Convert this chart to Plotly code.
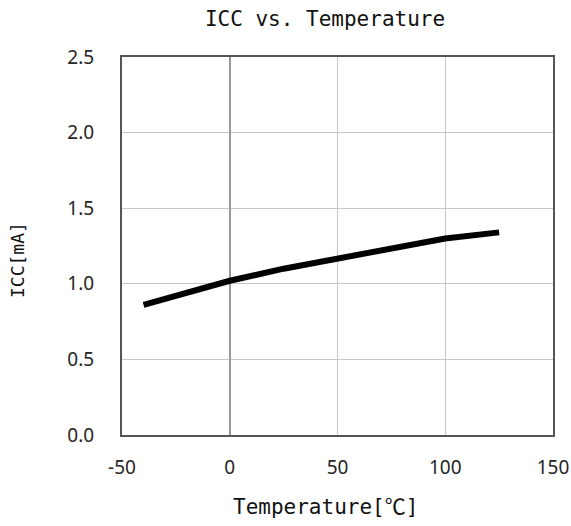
import plotly.graph_objects as go

temperature = [-40, 0, 25, 50, 75, 100, 125]
icc_ma = [0.86, 1.02, 1.10, 1.17, 1.235, 1.30, 1.34]

x_ticks = [-50, 0, 50, 100, 150]
y_ticks = [0.0, 0.5, 1.0, 1.5, 2.0, 2.5]

title_text = "ICC vs. Temperature"
x_title = "Temperature[℃]"
y_title = "ICC[mA]"

W, H = 571, 526
L, R, T, B = 122, 18, 57, 91
PW, PH = W - L - R, H - T - B

mono = "DejaVu Sans Mono, Noto Sans CJK JP, monospace"
tickfont = dict(family="Noto Sans, DejaVu Sans, sans-serif", size=19, color="#262626")

fig = go.Figure()
fig.add_trace(go.Scatter(
    x=temperature, y=icc_ma, mode="lines",
    line=dict(color="black", width=6),
    showlegend=False, hoverinfo="skip",
))

fig.update_layout(
    width=W, height=H,
    margin=dict(l=L, r=R, t=T, b=B, pad=0, autoexpand=False),
    paper_bgcolor="white", plot_bgcolor="white",
    title=dict(text=title_text, x=325 / W, xref="container", xanchor="center",
               y=1 - 19 / H, yref="container", yanchor="middle",
               font=dict(family=mono, size=21, color="#111111")),
    annotations=[
        dict(text=x_title, xref="paper", yref="paper",
             x=(325 - L) / PW, y=-(507 - (H - B)) / PH,
             xanchor="center", yanchor="middle", showarrow=False,
             font=dict(family=mono, size=21, color="#111111")),
        dict(text=y_title, xref="paper", yref="paper",
             x=(17 - L) / PW, y=((H - B) - 260) / PH,
             xanchor="center", yanchor="middle", showarrow=False, textangle=-90,
             font=dict(family=mono, size=18, color="#111111")),
    ],
)

fig.update_xaxes(
    range=[-50, 150], tickvals=x_ticks, ticktext=[str(v) for v in x_ticks],
    showgrid=True, gridcolor="#c8c8c8", gridwidth=1,
    zeroline=True, zerolinecolor="#999999", zerolinewidth=1.5,
    showline=True, linecolor="#555555", linewidth=2, mirror=True,
    ticks="", ticklabelstandoff=14, tickfont=tickfont, fixedrange=True,
)
fig.update_yaxes(
    range=[0, 2.5], tickvals=y_ticks, ticktext=[f"{v:.1f}" for v in y_ticks],
    showgrid=True, gridcolor="#c8c8c8", gridwidth=1, zeroline=False,
    showline=True, linecolor="#555555", linewidth=2, mirror=True,
    ticks="", ticklabelstandoff=22, tickfont=tickfont, fixedrange=True,
)

fig.write_html("out.html", config={"displayModeBar": False, "staticPlot": True},
               post_script="document.body.style.margin='0';")
